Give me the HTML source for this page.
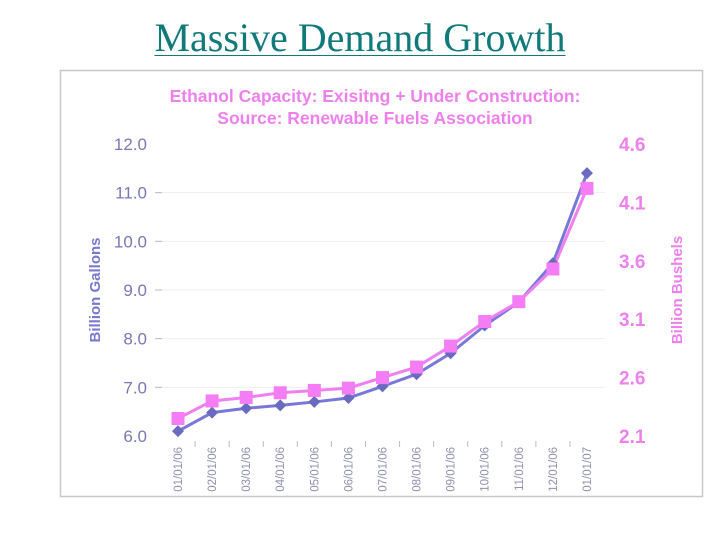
<!DOCTYPE html>
<html><head><meta charset="utf-8">
<style>
body{margin:0;width:720px;height:540px;background:#fff;overflow:hidden;font-family:"Liberation Sans",sans-serif;}
#t{position:absolute;left:0;width:720px;top:14px;text-align:center;font-family:"Liberation Serif",serif;font-size:40px;color:#107a7a;}
#t span{text-decoration:underline;text-decoration-thickness:1px;text-underline-offset:4px;}
</style></head><body>
<div id="t"><span>Massive Demand Growth</span></div>
<svg id="c" width="720" height="540" style="position:absolute;left:0;top:0"></svg>
<script>
const categories=["01/01/06","02/01/06","03/01/06","04/01/06","05/01/06","06/01/06","07/01/06","08/01/06","09/01/06","10/01/06","11/01/06","12/01/06","01/01/07"];
const gallons=[6.1,6.48,6.57,6.63,6.7,6.78,7.02,7.27,7.7,8.27,8.75,9.55,11.4];
const bushels=[2.25,2.40,2.43,2.47,2.49,2.51,2.60,2.69,2.87,3.08,3.25,3.53,4.22];
const leftTicks=["6.0","7.0","8.0","9.0","10.0","11.0","12.0"];
const rightTicks=["2.1","2.6","3.1","3.6","4.1","4.6"];
const NS="http://www.w3.org/2000/svg";
const svg=document.getElementById('c');
function el(t,a,txt){const e=document.createElementNS(NS,t);for(const k in a)e.setAttribute(k,a[k]);if(txt!==undefined)e.textContent=txt;svg.appendChild(e);return e;}
const yG=v=>436-(v-6)*48.67;
const yB=v=>436-(v-2.1)/2.5*292;
const xC=i=>178+i*34.08;
let f=el('rect',{x:60.5,y:70.5,width:642,height:426,fill:'none',stroke:'#c8c8c8','stroke-width':1.5});

let t1=el('text',{x:375,y:102,'text-anchor':'middle','font-size':17.5,'font-weight':'bold',fill:'#ee80ee'},'Ethanol Capacity: Exisitng + Under Construction:');

let t2=el('text',{x:375,y:124,'text-anchor':'middle','font-size':17.5,'font-weight':'bold',fill:'#ee80ee'},'Source: Renewable Fuels Association');

leftTicks.forEach(s=>{const v=parseFloat(s);const y=yG(v);
 if(v>6&&v<12){let g=el('line',{x1:158,x2:605,y1:y,y2:y,stroke:'#eeeeee'});
 let tk=el('line',{x1:155,x2:162,y1:y,y2:y,stroke:'#bbbbbb'});}
 let l=el('text',{x:147,y:y+6,'text-anchor':'end','font-size':17,fill:'#7878b4'},s);
 });
rightTicks.forEach(s=>{const y=yB(parseFloat(s));
 let l=el('text',{x:619,y:y+7,'font-size':19,'font-weight':'bold',fill:'#ee80ee'},s);
 });
let yl=el('text',{transform:'translate(100,290) rotate(-90)','text-anchor':'middle','font-size':15,'font-weight':'bold',fill:'#7878d0'},'Billion Gallons');

let yr=el('text',{transform:'translate(682,290) rotate(-90)','text-anchor':'middle','font-size':15,'font-weight':'bold',fill:'#ee80ee'},'Billion Bushels');

categories.forEach((c,i)=>{
 if(i>0){let tk=el('line',{x1:xC(i)-17,x2:xC(i)-17,y1:441,y2:447,stroke:'#bbbbbb'});}
 let l=el('text',{transform:`translate(${xC(i)+4},447) rotate(-90)`,'text-anchor':'end','font-size':11.5,fill:'#9090b0'},c);
 });
let pb=el('polyline',{points:gallons.map((v,i)=>xC(i)+','+yG(v)).join(' '),fill:'none',stroke:'#7878d8','stroke-width':3});

let pp=el('polyline',{points:bushels.map((v,i)=>xC(i)+','+yB(v)).join(' '),fill:'none',stroke:'#f080f0','stroke-width':3});

gallons.forEach((v,i)=>{const x=xC(i),y=yG(v);
 let d=el('polygon',{points:`${x},${y-6} ${x+6},${y} ${x},${y+6} ${x-6},${y}`,fill:'#6a6ac0'});
 });
bushels.forEach((v,i)=>{const x=xC(i),y=yB(v);
 let r=el('rect',{x:x-6.5,y:y-6.5,width:13,height:13,fill:'#f47cf4'});
 });
</script>
</body></html>
